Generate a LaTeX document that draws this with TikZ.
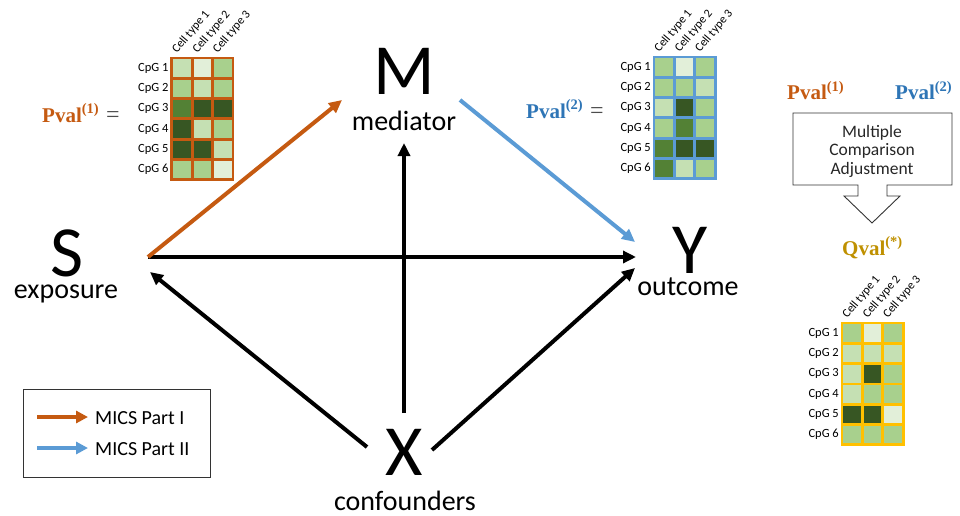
\documentclass[tikz,border=0pt]{standalone}
\usepackage{fontspec}
\setmainfont{Carlito}
\newfontfamily\cam{Liberation Serif}
\usetikzlibrary{arrows.meta}
\definecolor{orng}{HTML}{C55A11}
\definecolor{blu}{HTML}{5B9BD5}
\definecolor{blutxt}{HTML}{2E75B6}
\definecolor{goldtxt}{HTML}{BF9000}
\definecolor{goldb}{HTML}{FFC000}
\definecolor{L0}{HTML}{E2EFD9}
\definecolor{L1}{HTML}{C5E0B3}
\definecolor{L2}{HTML}{A8D08D}
\definecolor{L3}{HTML}{538135}
\definecolor{L4}{HTML}{375623}
\tikzset{
  big/.style={font=\fontsize{72}{72}\selectfont, inner sep=0pt, anchor=base},
  sub/.style={font=\fontsize{28}{28}\selectfont, inner sep=0pt, anchor=base},
  conn/.style={line width=4pt, -{Triangle[length=13pt,width=12pt]}},
  rowlab/.style={font=\fontsize{12.5}{12.5}\selectfont, anchor=east, inner sep=1pt},
  collab/.style={font=\fontsize{12}{12}\selectfont, anchor=south west, rotate=50, inner sep=0.5pt},
  pv/.style={font=\fontsize{21}{21}\selectfont\cam, inner sep=0pt, anchor=base west},
}
\newcommand\pvtext[2]{{\bfseries #1\raisebox{0.42em}{\fontsize{14.5}{14.5}\selectfont(#2)}}}
\newcommand\pveq{\hspace{0.35em}\textcolor{black!70}{\fontsize{24}{24}\selectfont=}}
\newcommand\hmap[4]{% x0, y0, border colour, rows
  \foreach \rw [count=\r] in {#4} {
    \foreach \cl [count=\k] in \rw {
      \draw[fill=\cl, draw=#3, line width=2.8pt]
        ({#1+(\k-1)*20.4},{#2+(\r-1)*20.3}) rectangle ++(20.4,20.3);
    }
    \node[rowlab] at ({#1-2},{#2+(\r-0.5)*20.3}) {CpG \r};
  }
  \foreach \k in {1,2,3} {
    \node[collab] at ({#1+(\k-1)*20.4+7},{#2-2}) {Cell type \k};
  }
}
\begin{document}
\begin{tikzpicture}[x=1pt,y=-1pt]
\useasboundingbox (0,0) rectangle (960,516);

% main nodes
\node[big] (S) at (67,276) {S};
\node[sub] (Sl) at (66,298) {exposure};
\node[big] (M) at (404,95) {M};
\node[sub] (Ml) at (404,130) {mediator};
\node[big] (Y) at (690,273) {Y};
\node[sub] (Yl) at (688,295) {outcome};
\node[big] (X) at (404,475) {X};
\node[sub] (Xl) at (405,510) {confounders};

% connection points
\coordinate (s1) at (148,257);
\coordinate (s2) at (150,272);
\coordinate (m1) at (342,100);
\coordinate (m2) at (460,100);
\coordinate (m3) at (404,143);
\coordinate (y1) at (635,242);
\coordinate (y2) at (636,257);
\coordinate (y3) at (635,268);
\coordinate (x1) at (367,447);
\coordinate (x2) at (404,413);
\coordinate (x3) at (432,450);

\draw[conn] (s1) -- (y2);
\draw[conn] (x2) -- (m3);
\draw[conn] (x1) -- (s2);
\draw[conn] (x3) -- (y3);
\draw[conn, orng] (s1) -- (m1);
\draw[conn, blu] (m2) -- (y1);

% heatmaps
\hmap{171.7}{58}{orng}{{L1,L0,L2},{L2,L1,L2},{L3,L4,L4},{L4,L1,L2},{L4,L4,L1},{L2,L2,L0}}
\hmap{654}{57}{blu}{{L2,L0,L2},{L2,L2,L1},{L1,L4,L2},{L2,L3,L2},{L3,L4,L4},{L3,L1,L2}}
\hmap{842}{323}{goldb}{{L2,L0,L2},{L1,L1,L1},{L1,L4,L2},{L1,L2,L2},{L4,L4,L0},{L2,L2,L2}}

\node[pv, text=orng] (p1) at (42,122) {\pvtext{Pval}{1}\pveq};
\node[pv, text=blutxt] (p2) at (526,118) {\pvtext{Pval}{2}\pveq};
\node[pv, text=orng] (p1b) at (787,100) {\pvtext{Pval}{1}};
\node[pv, text=blutxt] (p2b) at (895,100) {\pvtext{Pval}{2}};
\node[pv, text=goldtxt] (q) at (842,255) {\pvtext{Qval}{*}};

% adjustment box with arrow
\draw[line width=0.9pt, draw=black!80] (793,113) -- (952,113) -- (952,185) -- (887,185) -- (887,196) -- (900,196)
  -- (872,223) -- (844,196) -- (858,196) -- (858,185) -- (793,185) -- cycle;
\node[font=\fontsize{17.5}{18.5}\selectfont, align=center, text=black!85] (adj) at (872,151) {Multiple\\Comparison\\Adjustment};

% legend
\node[draw=black!80, line width=0.9pt, minimum width=187pt, minimum height=88pt, inner sep=0pt] (leg) at (116.5,433) {};
\coordinate (la1) at (37,417);
\coordinate (lb1) at (88,417);
\coordinate (la2) at (37,448);
\coordinate (lb2) at (88,448);
\draw[line width=4pt, orng, -{Triangle[length=12pt,width=12pt]}] (la1) -- (lb1);
\draw[line width=4pt, blu, -{Triangle[length=12pt,width=12pt]}] (la2) -- (lb2);
\node[font=\fontsize{20}{20}\selectfont, anchor=base west, inner sep=0pt] (lt1) at (95,424) {MICS Part I};
\node[font=\fontsize{20}{20}\selectfont, anchor=base west, inner sep=0pt] (lt2) at (95,455) {MICS Part II};
\end{tikzpicture}
\end{document}
